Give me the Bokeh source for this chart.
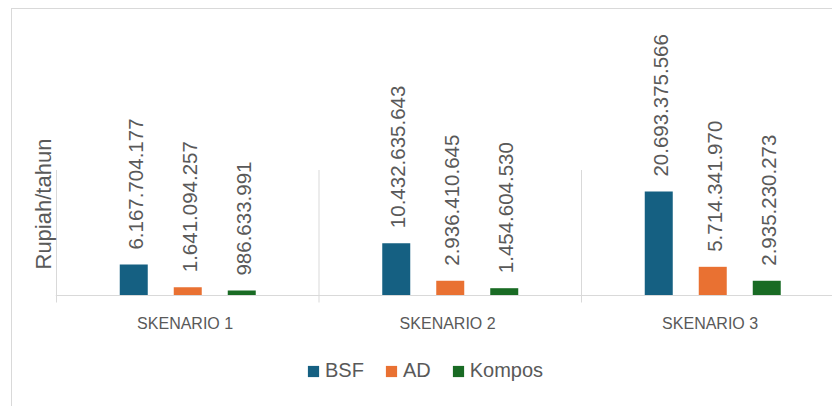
import numpy as np
from bokeh.plotting import figure
from bokeh.models import Range1d, Legend, LegendItem, Title, Span
from bokeh.embed import file_html
from bokeh.resources import INLINE
from bokeh.core.properties import value

# ---- data ----
categories = ["SKENARIO 1", "SKENARIO 2", "SKENARIO 3"]
series = ["BSF", "AD", "Kompos"]
bsf = [6167704177, 10432635643, 20693375566]
ad = [1641094257, 2936410645, 5714341970]
kompos = [986633991, 1454604530, 2935230273]
y_axis_max = 25e9          # maximum of the original value axis
y_title = "Rupiah/tahun"

# ---- styles / layout ----
colors = ["#156082", "#E97132", "#196B24"]
GRAY = "#D9D9D9"
TXT = "#595959"
FONT = "Liberation Sans"

W, H = 821, 398            # figure placed at (11, 8) on the page
BORDER_L = 44              # space left of the frame (y title)
BASE_Y = 287               # baseline, px from the frame top
AXIS_PX = 125.5            # pixel height of the value axis (0 .. y_axis_max)
CAT_PX = 262.5             # pixel width of one category
TICK_PX = 7                # tick marks below the baseline

px_per_val = AXIS_PX / y_axis_max
frame_w = W - BORDER_L
y_start = -(H - BASE_Y) / px_per_val
y_end = BASE_Y / px_per_val
x_start = -1 / CAT_PX
x_end = x_start + frame_w / CAT_PX

p = figure(width=W, height=H, output_backend="svg", toolbar_location=None,
           x_range=Range1d(x_start, x_end), y_range=Range1d(y_start, y_end),
           min_border_left=BORDER_L, min_border_right=0, min_border_top=0,
           min_border_bottom=0)
p.margin = (8, 0, 0, 11)
p.styles = {"box-shadow": "inset 1px 1px 0 0 #D9D9D9"}
p.border_fill_color = None
p.background_fill_color = None
p.outline_line_color = None
p.xgrid.visible = False
p.ygrid.visible = False
p.xaxis.visible = False
p.yaxis.visible = False

n = len(categories)
centers = np.arange(n) + 0.5
bounds = np.arange(n + 1)
bar_w = 28 / CAT_PX
step = 54 / CAT_PX
offsets = [-step, 0.0, step]

# category axis line and separators (with tick marks below the baseline)
p.add_layout(Span(location=0, dimension="width", line_color=GRAY, line_width=1))
p.segment(x0=bounds, y0=-TICK_PX / px_per_val, x1=bounds, y1=y_axis_max,
          line_color=GRAY, line_width=1)

def fmt(v):
    return f"{v:,}".replace(",", ".")

renderers = []
for vals, off, col in zip([bsf, ad, kompos], offsets, colors):
    xs = centers + off
    r = p.vbar(x=xs, top=vals, bottom=0, width=bar_w, fill_color=col, line_color=None)
    renderers.append(r)
    p.text(x=xs, y=vals, text=[fmt(v) for v in vals], angle=np.pi / 2,
           text_align="left", text_baseline="middle", x_offset=2, y_offset=-15,
           text_font=value(FONT), text_font_size="20.5px", text_color=TXT)

# category labels
p.text(x=centers - 0.01, y=[0] * n, text=categories, y_offset=28,
       text_align="center", text_baseline="middle",
       text_font=value(FONT), text_font_size="16px", text_color=TXT)

p.add_layout(Title(text=y_title, align="left", offset=137, standoff=0, text_font=FONT,
                   text_font_size="22px", text_font_style="normal",
                   text_color=TXT), "left")

legend = Legend(items=[LegendItem(label=s, renderers=[r]) for s, r in zip(series, renderers)],
                orientation="horizontal", location=(306 - 11 - BORDER_L, 24),
                glyph_width=14, glyph_height=14,
                label_standoff=5, spacing=20, label_text_font=FONT,
                label_text_font_size="20px", label_text_color=TXT,
                border_line_color=None, background_fill_alpha=0, padding=0, margin=0)
p.add_layout(legend, "center")

open("out.html", "w").write(file_html(p, INLINE))
